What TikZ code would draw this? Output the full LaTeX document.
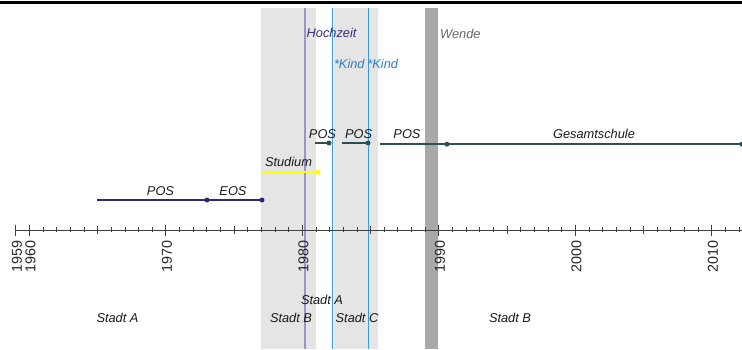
\documentclass[tikz,border=0pt]{standalone}
\usepackage{fontspec}
\setmainfont{Liberation Sans}
\usetikzlibrary{calc}

\definecolor{navybar}{RGB}{42,42,122}
\definecolor{tealbar}{RGB}{47,80,80}
\definecolor{studbar}{RGB}{255,255,0}
\definecolor{bandgray}{RGB}{229,229,229}
\definecolor{wendegray}{RGB}{168,168,168}
\definecolor{weddingline}{RGB}{154,148,200}
\definecolor{childline}{RGB}{58,154,217}
\definecolor{weddingtext}{RGB}{48,48,120}
\definecolor{childtext}{RGB}{40,128,200}

% x position (in pt) of a point in time
\pgfmathdeclarefunction{yr}{1}{\pgfmathparse{29.3+(#1-1960)*13.648}}

\tikzset{
  lbl/.style={font=\fontsize{12.8}{14}\selectfont\itshape, inner sep=0pt, text=black!90},
  yearlbl/.style={font=\fontsize{14.3}{14}\selectfont, inner sep=0pt, rotate=90, anchor=east, text=black!85},
  bar/.style={line width=2.2pt},
  dot/.style={circle, fill, inner sep=0pt, minimum size=5pt},
  tick/.style={line width=0.6pt, black!75},
}

\begin{document}
\begin{tikzpicture}[x=1pt,y=-1pt]
\useasboundingbox (0,0) rectangle (742,349);

% periods in the background
\fill[bandgray] ({yr(1977)},8) rectangle ({yr(1981)},349);
\fill[bandgray] ({yr(1982.3)},8) rectangle ({yr(1985.53)},349);
\fill[wendegray] ({yr(1989)},8) rectangle ({yr(1989.95)},349);

% events
\draw[weddingline, line width=2pt] ({yr(1980.18)},8) -- ({yr(1980.18)},349);
\draw[childline, line width=1pt] ({yr(1982.2)},8) -- ({yr(1982.2)},349);
\draw[childline, line width=1pt] ({yr(1984.84)},8) -- ({yr(1984.84)},349);

\node[lbl, text=weddingtext, anchor=west] (hochzeit) at (306.5,33) {Hochzeit};
\node[lbl, text=childtext, anchor=west] (kind1) at (333.8,63.5) {*Kind};
\node[lbl, text=childtext, anchor=west] (kind2) at (367.2,63.5) {*Kind};
\node[lbl, text=black!60, anchor=west] (wende) at (440,34) {Wende};

% top rule
\draw[line width=2.6pt] (0,2.6) -- (742,2.6);

% time axis
\coordinate (axstart) at ({yr(1959)},229.8);
\coordinate (axend) at (742,229.8);
\draw[tick] (axstart) -- (axend);
\foreach \y in {1959,...,2012}{
  \pgfmathtruncatemacro{\m}{mod(\y,10)}
  \pgfmathtruncatemacro{\f}{mod(\y,5)}
  \ifnum\m=0
    \draw[tick] ({yr(\y)},224.5) -- ({yr(\y)},235.5);
  \else\ifnum\y=1959
    \draw[tick] ({yr(\y)},224.5) -- ({yr(\y)},235.5);
  \else\ifnum\f=0
    \draw[tick] ({yr(\y)},225.5) -- ({yr(\y)},234);
  \else
    \draw[tick] ({yr(\y)},227.3) -- ({yr(\y)},232.3);
  \fi\fi\fi
}
\foreach \y in {1959,1960,1970,1980,1990,2000,2010}{
  \node[yearlbl] (y\y) at ({yr(\y)+1.2},240.5) {\y};
}

% school and study
\coordinate (pos1a) at ({yr(1964.96)},200);
\coordinate (pos1b) at ({yr(1973.02)},200);
\coordinate (eosb) at ({yr(1977.05)},200);
\draw[bar, navybar] (pos1a) -- (pos1b) -- (eosb);
\node[dot, navybar] (m1) at (pos1b) {};
\node[dot, navybar] (m2) at (eosb) {};
\node[lbl] (lpos1) at (160.5,191) {POS};
\node[lbl] (leos) at (233,191) {EOS};

\coordinate (studa) at ({yr(1977.05)},172.3);
\coordinate (studb) at ({yr(1981.15)},172.3);
\draw[bar, studbar] (studa) -- (studb);
\node[dot, studbar] (m3) at (studb) {};
\node[lbl] (lstud) at (288.5,161.5) {Studium};

\coordinate (pos2a) at ({yr(1980.93)},143);
\coordinate (pos2b) at ({yr(1981.96)},143);
\draw[bar, tealbar] (pos2a) -- (pos2b);
\node[dot, tealbar] (m4) at (pos2b) {};
\node[lbl] (lpos2) at (322.5,134) {POS};

\coordinate (pos3a) at ({yr(1982.91)},143);
\coordinate (pos3b) at ({yr(1984.82)},143);
\draw[bar, tealbar] (pos3a) -- (pos3b);
\node[dot, tealbar] (m5) at (pos3b) {};
\node[lbl] (lpos3) at (358.7,134) {POS};

\coordinate (pos4a) at ({yr(1985.7)},144.2);
\coordinate (pos4b) at ({yr(1990.6)},144.2);
\coordinate (gesb) at (742,144.2);
\draw[bar, tealbar] (pos4a) -- (pos4b) -- (gesb);
\node[dot, tealbar] (m6) at (pos4b) {};
\node[dot, tealbar] (m7) at (gesb) {};
\node[lbl] (lpos4) at (407,134) {POS};
\node[lbl] (lges) at (594,134) {Gesamtschule};

% places of residence
\node[lbl] (sa1) at (117.5,318) {Stadt A};
\node[lbl] (sb1) at (291,318) {Stadt B};
\node[lbl] (sa2) at (322,300) {Stadt A};
\node[lbl] (sc) at (357,318) {Stadt C};
\node[lbl] (sb2) at (510,318) {Stadt B};
\end{tikzpicture}
\end{document}
